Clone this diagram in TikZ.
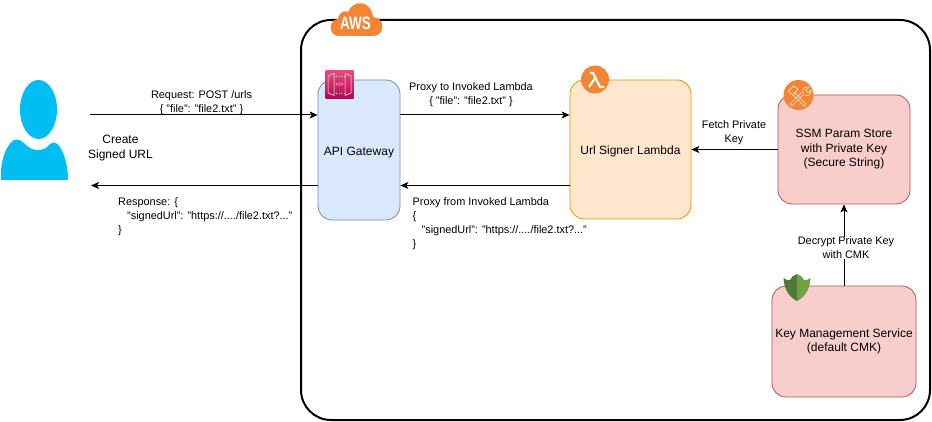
\documentclass[tikz,border=0pt]{standalone}
\usepackage{graphicx}
\usepackage{fontspec}
\setmainfont{Liberation Sans}
\usetikzlibrary{arrows.meta,positioning}
\definecolor{awsorange}{HTML}{F58534}
\definecolor{personblue}{HTML}{00BEF2}
\definecolor{apifill}{HTML}{DAE8FC}
\definecolor{apiline}{HTML}{6C8EBF}
\definecolor{signerfill}{HTML}{FFE6CC}
\definecolor{signerline}{HTML}{D79B00}
\definecolor{keyfill}{HTML}{F8CECC}
\definecolor{keyline}{HTML}{B85450}
\definecolor{pinktop}{HTML}{EA4A80}
\definecolor{pinkbot}{HTML}{B3084F}
\definecolor{shielddark}{HTML}{507A33}
\definecolor{shieldlight}{HTML}{739F45}
\tikzset{
  svcbox/.style={draw,rounded corners=14pt,line width=.8pt,align=center,font=\fontsize{12}{14.5}\selectfont,execute at begin node={\rule{0pt}{13pt}}},
  keybox/.style={svcbox,fill=keyfill,draw=keyline,execute at begin node={\rule{0pt}{16pt}}},
  conn/.style={draw,line width=1pt,-{Stealth[length=8pt,width=7pt,inset=2pt]}},
  lbl/.style={align=center,inner sep=0pt,font=\fontsize{10.9}{14}\selectfont},
  lblleft/.style={align=left,inner sep=0pt,anchor=north west,font=\fontsize{10.9}{14}\selectfont},
}
\begin{document}
\begin{tikzpicture}[x=1pt,y=-1pt]
	\useasboundingbox (0,0) rectangle (932,422);
	
	% outer AWS frame
	\draw[line width=2pt,rounded corners=30pt] (301,20) rectangle (930,420);
	
	% cloud
	\fill[awsorange] (339,36) .. controls (328,36) and (328,20) .. (338,19)
		.. controls (339,12) and (345,10) .. (348,12)
		.. controls (353,-1) and (371,0) .. (373,17)
		.. controls (385,17) and (386,36) .. (373,36) -- cycle;
	\node[text=white,inner sep=0pt,font=\bfseries\fontsize{18}{18}\selectfont] (awslabel) at (355.5,23.5) {\scalebox{.75}[1]{AWS}};
	
	% services
	\node[svcbox,fill=apifill,draw=apiline,minimum width=82pt,minimum height=140pt] (api) at (359,150) {API Gateway};
	\node[svcbox,fill=signerfill,draw=signerline,minimum width=121pt,minimum height=139pt] (signer) at (630.5,149.5) {Url Signer Lambda};
	\node[keybox,minimum width=132pt,minimum height=109pt] (ssm) at (844,149.5) {SSM Param Store\\with Private Key\\(Secure String)};
	\node[keybox,minimum width=144pt,minimum height=111pt] (kms) at (844,341.5) {Key Management Service\\(default CMK)};
	
	% api gateway icon
	\node[top color=pinktop,bottom color=pinkbot,minimum size=28pt,inner sep=0pt] (apiicon) at (339.5,84.5) {};
	\draw[white,line width=.5pt] (328,76) -- (334,73.5) -- (334,95.5) -- (328,93) -- cycle (351,76) -- (345,73.5) -- (345,95.5) -- (351,93) -- cycle;
	\draw[white,line width=.4pt,dotted] (334,76) -- (345,76) (334,93) -- (345,93);
	\node[text=white,inner sep=0pt,font=\fontsize{5.5}{5.5}\selectfont] at (339.5,84.5) {</>};
	
	% lambda icon
	\node[circle,fill=awsorange,minimum size=28pt,inner sep=0pt] (lambdaicon) at (595,79.5) {};
	\draw[white,line width=2.2pt] (590,73) -- (593,73) -- (600,87) -- (604,87) (595,78) -- (589,87);
	
	% tools icon
	\node[circle,fill=awsorange,minimum size=30pt,inner sep=0pt] (toolsicon) at (798.5,95) {};
	\draw[white!85!awsorange,line width=.6pt] (794,92) -- (806,104) -- (804,106) -- (792,94)
		(802,92) -- (790,104) -- (792,106) -- (804,94)
		(788,91) -- (794,86) -- (798,89) -- (793,95) -- cycle
		(803,93) .. controls (802,88) and (806,86) .. (809,87) -- (806,90) -- (808,93) -- (811,90) .. controls (812,94) and (808,97) .. (805,95);
	
	% shield icon
	\fill[shielddark] (797,274) -- (792.5,276.5) -- (790,280) -- (787,280) -- (783.5,278) .. controls (784,289) and (789,297) .. (797,301) -- cycle;
	\fill[shieldlight] (797,274) -- (801.5,276.5) -- (804,280) -- (807,280) -- (810.5,278) .. controls (810,289) and (805,297) .. (797,301) -- cycle;
	
	% person
	\fill[personblue] (38.5,109.5) ellipse (18.5 and 29.5);
	\fill[personblue] (1,180) .. controls (0,165) and (4,147) .. (14,140) .. controls (20,138) and (22,142) .. (26,145)
		.. controls (33,152) and (44,152) .. (50,144) .. controls (54,141) and (57,143) .. (60,147)
		.. controls (65,155) and (68,168) .. (68,180) -- cycle;
	
	% free ends
	\coordinate (reqstart) at (90,115);
	\coordinate (respend) at (91,185.5);
	
	% connectors
	\draw[conn] (reqstart) -- (reqstart -| api.west);
	\draw[conn] (respend -| api.west) -- (respend);
	\draw[conn] (reqstart -| api.east) -- (reqstart -| signer.west);
	\draw[conn] (respend -| signer.west) -- (respend -| api.east);
	\draw[conn] (ssm.west) -- (ssm.west -| signer.east);
	\draw[conn] (kms.north) -- (ssm.south);
	
	% labels
	\node[lbl] (reqlabel) at (201.5,103) {Request: POST /urls\\\{ "file": "file2.txt" \}};
	\node[lbl,font=\fontsize{12}{15}\selectfont] (userlabel) at (120.5,148) {Create\\Signed URL};
	\node[lblleft] (resplabel) at (118,197) {Response: \{\\\hspace*{9pt}"signedUrl": "https://..../file2.txt?..."\\\}};
	\node[lbl] (proxylabel) at (471,95) {Proxy to Invoked Lambda\\\{ "file": "file2.txt" \}};
	\node[lblleft] (backlabel) at (412.5,197) {Proxy from Invoked Lambda\\\{\\\hspace*{9pt}"signedUrl": "https://..../file2.txt?..."\\\}};
	\node[lbl] (fetchlabel) at (734,133) {Fetch Private\\Key};
	\node[lbl,fill=white] (decryptlabel) at (846,248) {Decrypt Private Key\\with CMK};
\end{tikzpicture}
\end{document}
